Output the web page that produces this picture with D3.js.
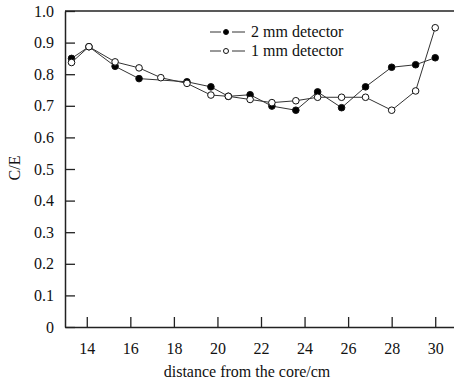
<!DOCTYPE html>
<html>
<head>
<meta charset="utf-8">
<script src="https://cdn.jsdelivr.net/npm/d3@7"></script>
<style>
  body { margin: 0; background: #fff; }
  svg text { fill: #111; }
</style>
</head>
<body>
<svg id="chart" width="454" height="381"></svg>
<script>
// 数据
const distance = [13.3, 14.1, 15.3, 16.4, 17.4, 18.6, 19.7, 20.5, 21.5, 22.5, 23.6, 24.6, 25.7, 26.8, 28.0, 29.1, 30.0];
const det2mm = [0.850, 0.887, 0.825, 0.786, null, 0.776, 0.760, 0.730, 0.735, 0.699, 0.686, 0.744, 0.694, 0.760, 0.822, 0.830, 0.852];
const det1mm = [0.837, 0.887, 0.839, 0.820, 0.789, 0.771, 0.734, 0.730, 0.720, 0.710, 0.716, 0.727, 0.727, 0.727, 0.686, 0.747, 0.947];
const xTicks = [14, 16, 18, 20, 22, 24, 26, 28, 30];
const yTicks = [0, 0.1, 0.2, 0.3, 0.4, 0.5, 0.6, 0.7, 0.8, 0.9, 1.0];

const mLeft = 65, mTop = 11, mRight = 457, mBottom = 327;
const serif = "'Liberation Serif', 'Times New Roman', serif";

let svg = d3.select("#chart");

let x = d3.scaleLinear().domain([13, 31]).range([mLeft, mRight]);
let y = d3.scaleLinear().domain([0, 1]).range([mBottom, mTop]);

// 坐标轴
let xAxis = d3.axisBottom(x).tickValues(xTicks).tickSizeInner(-10).tickSizeOuter(0).tickPadding(16);
let yAxis = d3.axisLeft(y).tickValues(yTicks).tickSizeInner(-10).tickSizeOuter(0).tickPadding(11)
    .tickFormat(d => d === 0 ? "0" : d3.format(".1f")(d));

let gx = svg.append("g").attr("transform", "translate(0," + mBottom + ")").call(xAxis);
let gy = svg.append("g").attr("transform", "translate(" + mLeft + ",0)").call(yAxis);

[gx, gy].forEach(g => {
    g.attr("font-family", serif).attr("font-size", 16);
    g.select(".domain").attr("stroke", "#222").attr("stroke-width", 1.5);
    g.selectAll(".tick line").attr("stroke", "#222").attr("stroke-width", 1.3);
    g.selectAll(".tick text").attr("fill", "#111");
});

// 上边框
svg.append("line")
    .attr("x1", mLeft).attr("x2", 454)
    .attr("y1", mTop).attr("y2", mTop)
    .attr("stroke", "#222").attr("stroke-width", 1.5);

// 轴标题
svg.append("text")
    .attr("x", 247).attr("y", 377)
    .attr("text-anchor", "middle")
    .attr("font-size", 16)
    .attr("font-family", serif)
    .text("distance from the core/cm");

svg.append("text")
    .attr("transform", "translate(20,168) rotate(-90)")
    .attr("text-anchor", "middle")
    .attr("font-size", 16)
    .attr("font-family", serif)
    .text("C/E");

// 折线
function drawSeries(values, fill) {
    let pts = distance.map((d, i) => [d, values[i]]).filter(p => p[1] !== null);
    let line = d3.line().x(p => x(p[0])).y(p => y(p[1]));
    svg.append("path")
        .datum(pts)
        .attr("d", line)
        .attr("fill", "none")
        .attr("stroke", "#333")
        .attr("stroke-width", 1);
    svg.selectAll(null)
        .data(pts)
        .enter()
        .append("circle")
        .attr("cx", p => x(p[0]))
        .attr("cy", p => y(p[1]))
        .attr("r", 3.3)
        .attr("fill", fill)
        .attr("stroke", "#111")
        .attr("stroke-width", 1);
}
drawSeries(det2mm, "#000");
drawSeries(det1mm, "#fff");

// 图例
let legend = [["2 mm detector", "#000"], ["1 mm detector", "#fff"]];
legend.forEach((l, i) => {
    let ly = 32 + i * 19;
    [[210, 221], [232, 245]].forEach(seg => {
        svg.append("line")
            .attr("x1", seg[0]).attr("x2", seg[1])
            .attr("y1", ly).attr("y2", ly)
            .attr("stroke", "#333").attr("stroke-width", 1);
    });
    svg.append("circle")
        .attr("cx", 226).attr("cy", ly).attr("r", 2.5)
        .attr("fill", l[1]).attr("stroke", "#111");
    svg.append("text")
        .attr("x", 251).attr("y", ly + 5)
        .attr("font-size", 16)
        .attr("font-family", serif)
        .text(l[0]);
});
</script>
</body>
</html>
